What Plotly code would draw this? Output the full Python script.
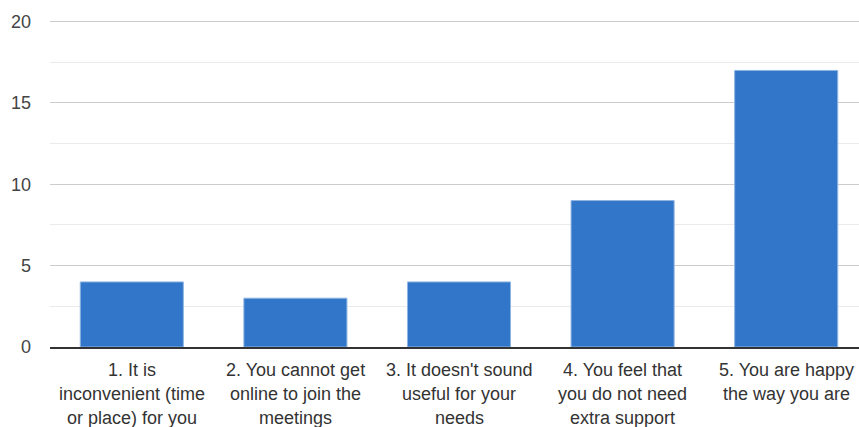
import plotly.graph_objects as go

categories = [
    "1. It is|inconvenient (time|or place) for you",
    "2. You cannot get|online to join the|meetings",
    "3. It doesn't sound|useful for your|needs",
    "4. You feel that|you do not need|extra support",
    "5. You are happy|the way you are",
]
values = [4, 3, 4, 9, 17]
y_ticks = [0, 5, 10, 15, 20]

xs = list(range(len(categories)))

fig = go.Figure()
fig.add_trace(go.Bar(
    x=xs, y=values, width=0.63,
    marker=dict(color="#3176c8", line=dict(color="#8fb4e2", width=1)),
    hoverinfo="y",
))

for i, cat in enumerate(categories):
    for j, line in enumerate(cat.split("|")):
        fig.add_annotation(
            x=i, xref="x", y=0, yref="paper",
            text=line, showarrow=False,
            yanchor="middle", xanchor="center",
            yshift=-(23 + 24 * j),
            font=dict(family="Arial, Liberation Sans, sans-serif", size=18, color="#333333"),
        )

fig.update_layout(
    width=859, height=427,
    margin=dict(l=50, r=0, t=20, b=80),
    paper_bgcolor="white", plot_bgcolor="white",
    showlegend=False,
    font=dict(family="Arial, Liberation Sans, sans-serif", size=18, color="#444444"),
    xaxis=dict(
        range=[-0.5, -0.5 + 809 / 163.6],
        showticklabels=False, showgrid=False, zeroline=False,
        showline=True, linecolor="#333333", linewidth=1.5,
        fixedrange=True,
    ),
    yaxis=dict(
        range=[0, 20.1], tickvals=y_ticks,
        showgrid=True, gridcolor="#cccccc", gridwidth=1,
        minor=dict(dtick=2.5, showgrid=True, gridcolor="#ebebeb", gridwidth=1),
        zeroline=False, showline=False, ticks="",
        ticklabelstandoff=18,
        tickfont=dict(size=18, color="#444444"),
        fixedrange=True,
    ),
)

fig.write_html(
    "out.html",
    config={"displayModeBar": False},
    post_script="document.body.style.margin='0';document.body.style.padding='0';",
)
